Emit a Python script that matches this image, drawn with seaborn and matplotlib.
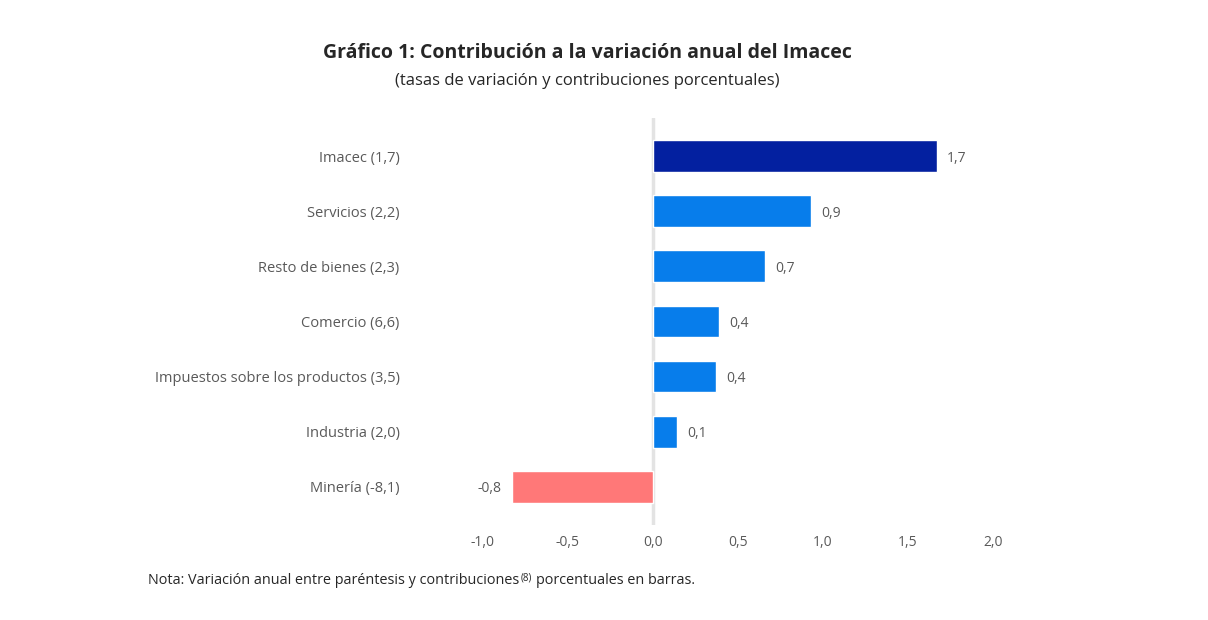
import pandas as pd
import matplotlib.pyplot as plt
import seaborn as sns

# Chart data
categorias = ["Imacec (1,7)", "Servicios (2,2)", "Resto de bienes (2,3)", "Comercio (6,6)",
              "Impuestos sobre los productos (3,5)", "Industria (2,0)", "Minería (-8,1)"]
contribuciones = [1.67, 0.93, 0.66, 0.39, 0.37, 0.14, -0.83]
etiquetas = ["1,7", "0,9", "0,7", "0,4", "0,4", "0,1", "-0,8"]
grupos = ["total", "pos", "pos", "pos", "pos", "pos", "neg"]
ticks_x = [-1.0, -0.5, 0.0, 0.5, 1.0, 1.5, 2.0]
ticks_x_txt = ["-1,0", "-0,5", "0,0", "0,5", "1,0", "1,5", "2,0"]

df = pd.DataFrame({"cat": categorias, "val": contribuciones, "grupo": grupos})

sns.set_theme(style="white")
plt.rcParams['font.family'] = ['Open Sans', 'DejaVu Sans']

fig = plt.figure(figsize=(12.08, 6.2), dpi=100)
ax = fig.add_axes([0.3998, 0.153, 0.4222, 0.657])

colores = {"total": "#0320A0", "pos": "#077DEB", "neg": "#FF7878"}
sns.barplot(data=df, x="val", y="cat", hue="grupo", palette=colores, dodge=False,
            width=0.58, legend=False, ax=ax, saturation=1)

ax.set_xlim(-1.0, 2.0)
ax.set_ylim(6.7, -0.7)
ax.set_xticks(ticks_x)
ax.set_xticklabels(ticks_x_txt)
ax.set_xlabel("")
ax.set_ylabel("")
for s in ax.spines.values():
    s.set_visible(False)
ax.axvline(0, color="#E3E3E3", lw=2.5, zorder=0)
ax.tick_params(axis="y", length=0, pad=60, labelsize=10.5, labelcolor="#595959")
ax.tick_params(axis="x", length=0, pad=7, labelsize=10, labelcolor="#595959")

# Value labels
for i, (v, t) in enumerate(zip(contribuciones, etiquetas)):
    if v >= 0:
        ax.text(v + 0.06, i, t, va="center_baseline", ha="left", fontsize=10, color="#595959")
    else:
        ax.text(v - 0.06, i, t, va="center_baseline", ha="right", fontsize=10, color="#595959")

fig.text(0.486, 0.914, "Gráfico 1: Contribución a la variación anual del Imacec",
         ha="center", va="center", fontsize=14, fontweight="bold", color="#262626")
fig.text(0.486, 0.870, "(tasas de variación y contribuciones porcentuales)",
         ha="center", va="center", fontsize=12, color="#262626")

# Footnote with superscript
r = fig.canvas.get_renderer()
t1 = fig.text(0.1225, 0.064, "Nota: Variación anual entre paréntesis y contribuciones", ha="left",
              va="center", fontsize=10.4, color="#262626")
x1 = t1.get_window_extent(r).x1 / fig.bbox.width
t2 = fig.text(x1 + 0.0015, 0.068, "(8)", ha="left", va="center", fontsize=7, color="#262626")
x2 = t2.get_window_extent(r).x1 / fig.bbox.width
fig.text(x2 + 0.003, 0.064, "porcentuales en barras.", ha="left", va="center",
         fontsize=10.4, color="#262626")

plt.savefig("out.png", dpi=100)
